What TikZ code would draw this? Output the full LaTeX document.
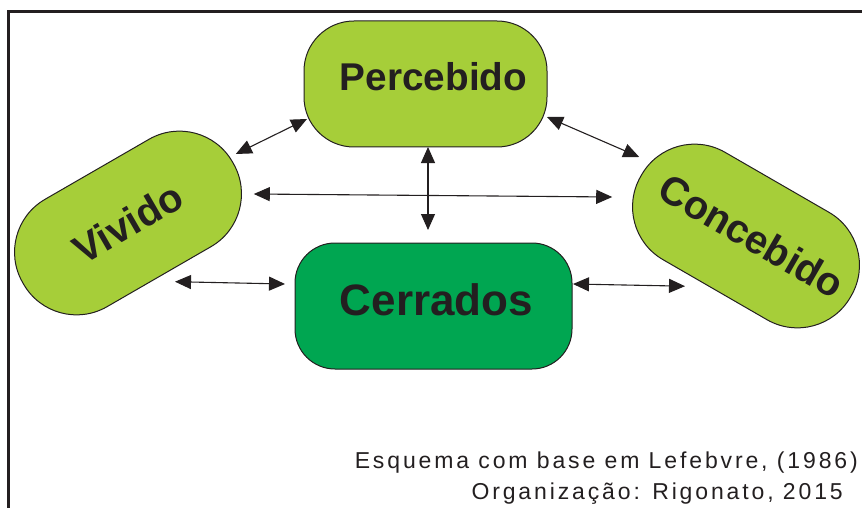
\documentclass[tikz,border=0pt]{standalone}
\usepackage{fontspec}
\setmainfont{Liberation Sans}
\usetikzlibrary{arrows.meta}

\definecolor{verdeclaro}{RGB}{166,206,57}
\definecolor{verdeescuro}{RGB}{0,166,81}
\definecolor{contorno}{RGB}{35,31,32}

\tikzset{
  caixa/.style={draw=contorno, line width=1pt, rectangle, inner sep=0pt, outer sep=0pt,
    text=contorno, fill=verdeclaro, minimum width=243pt, minimum height=126pt},
  oval/.style={caixa, minimum width=242pt, minimum height=124pt, rounded corners=61pt,
    font=\fontsize{40}{42}\selectfont\bfseries},
  seta/.style={contorno, line width=1.1pt, {Triangle[length=16pt,width=14pt]}-{Triangle[length=16pt,width=14pt]}},
  rodape/.style={anchor=base east, text=contorno, inner sep=0pt,
    font=\fontsize{23}{25}\selectfont\addfontfeatures{LetterSpace=12.5}}
}

\begin{document}
\begin{tikzpicture}[x=1pt, y=-1pt]
        \useasboundingbox (0,0) rectangle (862,508);
        \draw[contorno, line width=3pt] (8,508) -- (8,12) -- (862,12);

        \node[caixa, rounded corners=50pt, text height=28pt, text depth=14pt,
          font=\fontsize{38.7}{40}\selectfont\bfseries] (perc) at (425.5,84) {\hspace*{16pt}Percebido};
        \node[caixa, fill=verdeescuro, minimum width=277pt, rounded corners=40pt,
          text height=32pt, text depth=14pt,
          font=\fontsize{44}{46}\selectfont\bfseries] (cerr) at (433.5,306) {\hspace*{6pt}Cerrados};
        \node[oval, rotate=30] (viv) at (128,223) {Vivido};
        \node[oval, rotate=-30, text depth=6pt] (conc) at (746,236) {\hspace*{10pt}Concebido};

        \draw[seta] ([xshift=3pt,yshift=8.5pt]viv.east) -- ([xshift=3pt,yshift=-35pt]perc.west);
        \draw[seta] ([xshift=21pt,yshift=-31.5pt]viv.east) -- ([xshift=-29pt,yshift=-21.5pt]conc.west);
        \draw[seta] ([xshift=2.5pt]perc.south) -- ([xshift=-5.5pt,yshift=13pt]cerr.north);
        \draw[seta] ([yshift=-33pt]perc.east) -- ([xshift=-2pt,yshift=18.5pt]conc.west);
        \draw[seta] ([xshift=16pt,yshift=-5pt]viv.south) -- ([xshift=-10pt,yshift=22pt]cerr.west);
        \draw[seta] ([xshift=1pt,yshift=22pt]cerr.east) -- ([xshift=-30pt,yshift=3.5pt]conc.south);

        \node[rodape] (fonte) at (858,468) {Esquema com base em Lefebvre, (1986)};
        \node[rodape] (org) at (843,499) {Organização: Rigonato, 2015};
    \end{tikzpicture}
\end{document}
